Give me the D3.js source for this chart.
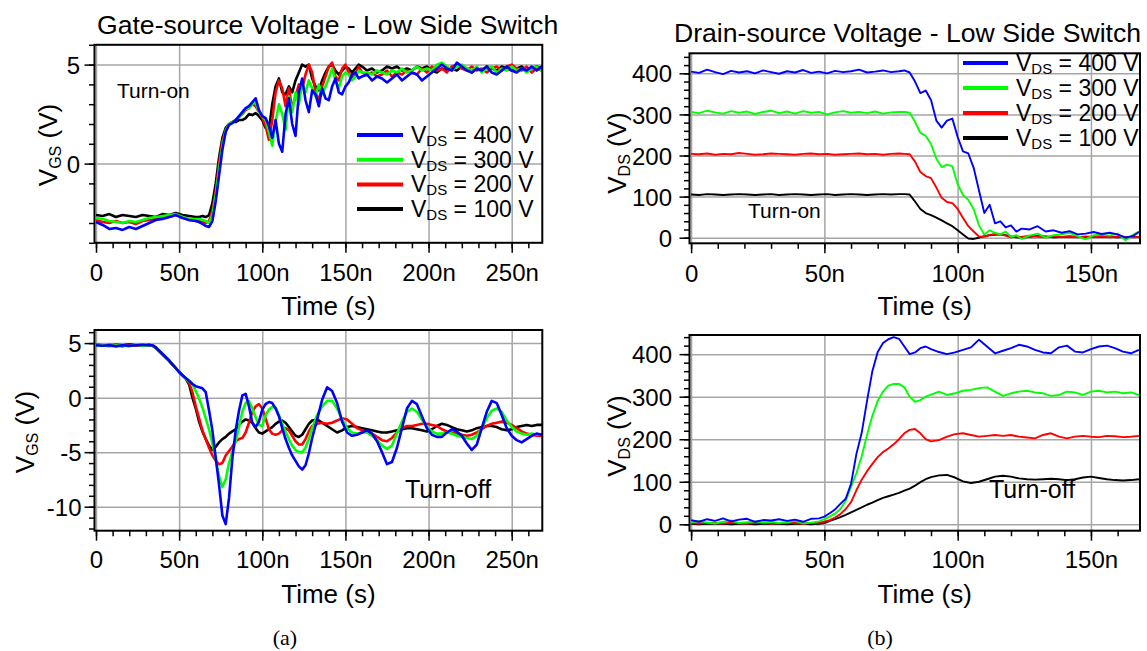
<!DOCTYPE html>
<html>
<head>
<meta charset="utf-8">
<script src="https://cdn.jsdelivr.net/npm/d3@7"></script>
<style>
    body { margin: 0; background: #fff; }
    svg { display: block; font-family: "Liberation Sans", Arial, sans-serif; }
</style>
</head>
<body>
<svg id="chart" width="1147" height="651"></svg>
<script>
// Legend / series
const legendVoltages = ['400', '300', '200', '100'];
const seriesColors = ['#0000ff', '#00ff00', '#ff0000', '#000000'];

// Tick values
const xTicksLeft = [0, 50, 100, 150, 200, 250];
const xTicksRight = [0, 50, 100, 150];
const yTicksGsOn = [0, 5];
const yTicksGsOff = [-10, -5, 0, 5];
const yTicksDs = [0, 100, 200, 300, 400];

// (a) top: gate-source, turn-on (time in ns, volts)
const tGsOn = [0,4,8,12,16,20,24,28,32,36,40,44,48,52,56,60,
    62,64,66,68,70,72,74,76,78,80,82,84,86,88,90,92,94,96,98,100,
    102,104,106,108,110,112,114,116,118,120,122,124,126,128,130,132,134,136,138,140,
    142,144,146,148,150,152,154,156,158,160,
    163,166,169,172,175,178,181,184,187,190,193,196,199,202,205,208,211,214,217,220,
    223,226,229,232,235,238,241,244,247,250,253,256,259,262,265,268,270];
const vgsOn400 = [-2.95,-3.1,-3.3,-3.25,-3.35,-3.2,-3.3,-3.15,-3.0,-2.85,-2.8,-2.7,-2.6,-2.75,-2.85,-2.9,
    -2.95,-3.05,-3.15,-3.2,-2.9,-1.9,-0.6,0.7,1.6,1.95,2.05,2.2,2.4,2.6,2.8,2.9,3.1,3.3,2.7,2.4,
    2.3,1.9,1.3,2.2,1.0,0.6,2.5,3.3,2.0,1.4,3.6,4.3,3.2,2.6,3.7,3.5,2.9,3.8,3.3,3.2,
    3.9,4.3,3.6,3.5,3.9,4.1,4.5,4.6,4.3,4.4,
    4.5,4.2,4.4,4.3,4.1,4.3,4.5,4.2,4.4,4.6,4.5,4.2,4.4,4.6,4.8,5.0,4.8,4.7,5.1,4.9,
    4.7,4.6,4.8,4.7,4.9,4.6,4.5,4.7,4.9,4.7,4.6,4.8,4.7,4.9,4.7,4.9,5.0];
const vgsOn300 = [-2.75,-2.8,-2.9,-2.95,-3.0,-2.9,-2.95,-2.85,-2.75,-2.7,-2.65,-2.6,-2.55,-2.7,-2.8,-2.8,
    -2.8,-2.85,-2.9,-3.0,-2.6,-1.6,-0.3,0.9,1.65,2.0,2.1,2.2,2.35,2.55,2.75,2.8,3.0,3.1,2.6,2.4,
    2.2,1.6,0.9,2.1,3.0,2.5,1.7,3.4,2.6,3.6,3.0,4.0,3.6,4.2,3.8,3.4,4.0,3.5,3.9,4.3,
    4.8,4.2,3.8,4.4,4.6,4.5,4.2,4.4,4.7,4.6,
    4.6,4.5,4.7,4.6,4.5,4.7,4.6,4.8,4.6,4.7,4.9,4.7,4.8,4.7,5.0,5.1,4.9,4.7,4.9,5.0,
    4.8,4.7,4.9,4.6,4.8,4.9,4.6,4.8,4.7,4.9,4.7,4.8,4.6,4.8,4.9,4.7,4.8];
const vgsOn200 = [-2.85,-2.95,-3.0,-2.9,-3.0,-2.95,-3.05,-2.9,-2.85,-2.8,-2.75,-2.7,-2.6,-2.7,-2.85,-2.9,
    -2.85,-2.95,-3.0,-2.9,-2.4,-1.4,0.0,1.1,1.7,2.0,2.1,2.2,2.35,2.5,2.7,2.8,3.0,2.9,2.6,2.3,
    1.9,1.2,2.2,3.6,4.2,3.8,2.9,3.8,2.8,3.4,4.0,3.8,4.5,5.0,4.6,3.6,3.2,3.9,4.4,4.9,
    5.1,4.4,4.2,4.8,5.0,4.6,4.3,4.5,4.9,4.6,
    4.5,4.6,4.4,4.5,4.7,4.4,4.6,4.5,4.7,4.6,4.5,4.8,4.6,4.9,4.7,4.8,4.6,4.9,5.0,4.8,
    4.7,4.9,4.7,4.8,4.6,4.8,4.9,4.7,4.9,5.0,4.8,4.7,4.9,4.6,4.8,4.7,4.6];
const vgsOn100 = [-2.6,-2.65,-2.55,-2.7,-2.6,-2.65,-2.7,-2.6,-2.65,-2.7,-2.55,-2.6,-2.5,-2.6,-2.65,-2.7,
    -2.7,-2.65,-2.7,-2.6,-2.0,-1.0,0.3,1.3,1.8,2.0,2.1,2.1,2.2,2.2,2.3,2.5,2.45,2.55,2.4,2.2,
    1.8,1.7,3.0,3.9,4.3,3.6,3.5,3.9,3.6,4.2,4.6,5.0,4.9,5.0,4.3,3.9,3.7,4.2,4.6,4.9,
    5.0,4.7,4.5,4.7,4.9,4.8,4.6,4.8,5.0,4.9,
    4.7,4.8,4.6,4.7,4.9,4.8,4.9,4.7,4.8,4.7,4.9,4.8,4.9,4.7,4.6,4.8,4.7,4.8,4.7,4.9,
    4.8,4.6,4.8,4.7,4.9,4.8,4.7,4.9,4.8,4.7,4.8,4.9,4.7,4.8,4.9,4.8,4.8];

// (a) bottom: gate-source, turn-off
const tGsOff = [0,4,8,12,16,20,24,28,32,
    34,36,38,40,42,44,46,48,50,52,54,56,58,60,62,64,66,68,70,72,
    74,76,78,80,82,84,86,88,90,92,94,96,98,100,102,104,106,108,110,112,
    114,116,118,120,122,124,126,128,130,
    133,136,139,142,145,148,151,154,157,160,163,166,169,172,175,178,181,184,187,190,
    193,196,199,202,205,208,211,214,217,220,223,226,229,232,235,238,241,244,247,250,
    253,256,259,262,265,268,270];
const vgsOff400 = [4.8,4.75,4.8,4.7,4.8,4.75,4.8,4.85,4.8,
    4.8,4.6,4.3,4.0,3.7,3.4,3.05,2.7,2.35,2.05,1.8,1.55,1.25,1.05,0.95,0.85,0.5,-1.2,-3.0,-5.5,
    -8.0,-10.8,-11.6,-9.2,-5.6,-3.0,-1.2,0.2,0.35,-0.8,-2.3,-2.7,-2.2,-1.1,-0.6,-0.4,-0.5,-1.0,-1.7,-2.8,
    -3.8,-4.6,-5.3,-5.8,-6.3,-6.6,-6.2,-5.1,-3.7,
    -2.0,-0.2,0.95,0.6,-0.5,-2.2,-3.2,-3.5,-3.4,-3.2,-3.0,-3.3,-4.0,-5.0,-6.1,-5.9,-4.6,-2.8,-1.0,-0.3,
    -0.6,-1.7,-2.8,-3.4,-3.6,-3.6,-3.2,-2.9,-3.1,-3.5,-4.2,-4.8,-4.3,-2.8,-1.3,-0.3,-0.5,-1.6,-2.8,-3.5,
    -3.9,-4.1,-3.8,-3.5,-3.3,-3.4,-3.5];
const vgsOff300 = [4.75,4.8,4.7,4.8,4.75,4.7,4.85,4.75,4.8,
    4.8,4.6,4.3,4.0,3.7,3.4,3.05,2.7,2.35,2.05,1.75,1.5,1.25,0.6,-0.1,-0.9,-1.9,-2.9,-4.2,-5.6,
    -7.2,-8.2,-7.5,-6.0,-5.0,-4.0,-2.7,-1.3,-0.5,-0.3,-1.0,-1.8,-2.5,-2.6,-1.6,-1.1,-0.85,-0.9,-1.6,-2.4,
    -3.1,-3.8,-4.4,-4.8,-5.0,-5.0,-4.6,-3.8,-2.8,
    -1.6,-0.8,-0.3,-0.3,-1.0,-2.0,-2.8,-3.2,-3.3,-3.2,-3.2,-3.5,-3.9,-4.4,-4.7,-4.4,-3.3,-2.2,-1.3,-1.0,
    -1.3,-2.0,-2.7,-3.1,-3.3,-3.3,-3.2,-3.3,-3.5,-3.6,-3.7,-3.8,-3.5,-2.8,-1.9,-1.2,-1.0,-1.3,-2.1,-2.7,
    -3.1,-3.3,-3.4,-3.3,-3.4,-3.4,-3.5];
const vgsOff200 = [4.8,4.75,4.85,4.8,4.7,4.85,4.75,4.8,4.8,
    4.8,4.6,4.3,4.0,3.7,3.4,3.05,2.7,2.35,2.05,1.75,1.35,0.5,-0.8,-1.9,-3.0,-3.8,-4.6,-5.3,-5.8,
    -6.1,-6.0,-5.3,-4.9,-4.5,-4.0,-3.8,-3.7,-3.2,-2.3,-1.3,-0.8,-0.6,-1.0,-1.9,-2.9,-3.3,-3.4,-3.3,-3.0,
    -2.8,-3.0,-3.5,-4.0,-4.3,-4.3,-3.8,-3.1,-2.6,
    -2.4,-2.3,-2.4,-2.3,-2.1,-1.9,-2.0,-2.4,-2.8,-3.0,-3.1,-3.3,-3.6,-3.9,-4.0,-3.7,-3.2,-2.8,-2.6,-2.6,
    -2.5,-2.4,-2.4,-2.5,-2.6,-2.9,-3.1,-3.2,-3.3,-3.4,-3.5,-3.4,-3.2,-2.9,-2.6,-2.4,-2.3,-2.2,-2.3,-2.5,
    -2.8,-3.1,-3.3,-3.4,-3.5,-3.5,-3.5];
const vgsOff100 = [4.85,4.8,4.75,4.85,4.8,4.9,4.8,4.75,4.85,
    4.75,4.55,4.25,3.95,3.65,3.35,3.0,2.7,2.35,2.05,1.75,1.2,0.0,-1.0,-2.2,-3.1,-3.8,-4.4,-4.8,-4.5,
    -4.1,-3.8,-3.6,-3.3,-3.1,-2.9,-2.5,-2.2,-2.0,-2.1,-2.3,-2.8,-3.2,-3.3,-3.1,-2.9,-2.7,-2.4,-2.2,-2.1,
    -2.3,-2.7,-3.1,-3.5,-3.6,-3.4,-2.9,-2.4,-2.1,
    -2.0,-2.3,-2.6,-2.9,-3.2,-3.0,-2.7,-2.6,-2.7,-2.8,-2.9,-3.0,-3.1,-3.2,-3.2,-3.1,-3.0,-2.9,-2.8,-2.8,
    -2.9,-3.0,-3.1,-2.9,-2.6,-2.4,-2.5,-2.7,-2.9,-3.0,-3.1,-3.0,-2.8,-2.7,-2.6,-2.6,-2.7,-2.9,-3.0,-2.9,
    -2.7,-2.6,-2.5,-2.6,-2.5,-2.5,-2.6];

// (b) top: drain-source, turn-on
const tDsOn = [0,3,6,9,12,15,18,21,24,27,30,33,36,39,42,45,48,51,54,57,60,63,66,69,72,75,78,
    80,82,84,86,88,90,92,94,96,98,100,102,104,106,108,110,112,114,116,118,120,122,124,
    127,130,133,136,139,142,145,148,151,154,157,160,163,166,168];
const vdsOn400 = [404,401,409,403,398,406,402,405,400,407,403,399,405,402,408,401,404,400,406,403,405,409,402,404,407,403,405,
    407,402,380,352,358,335,285,268,285,290,245,210,205,170,115,60,80,35,40,25,30,15,22,
    20,28,15,18,12,16,8,10,14,9,12,8,0,5,14];
const vdsOn300 = [306,303,309,305,302,308,304,307,301,306,309,303,307,302,308,304,306,300,305,308,304,306,303,307,302,305,306,
    306,304,282,255,248,228,192,172,178,174,130,104,92,70,30,8,18,12,8,15,2,6,-3,
    5,10,0,6,8,12,4,-4,6,8,5,10,-6,8,15];
const vdsOn200 = [204,203,205,202,204,203,206,204,202,203,205,204,203,202,204,205,203,204,202,203,204,205,203,204,202,204,205,
    204,203,185,160,150,145,122,97,87,84,70,48,28,15,3,2,7,9,8,5,1,3,2,
    5,3,1,4,2,3,1,3,2,4,1,3,2,1,2];
const vdsOn100 = [105,104,106,105,104,105,106,105,104,105,106,104,105,106,105,104,105,106,104,105,106,105,104,105,106,105,106,
    106,105,88,70,60,55,49,42,35,28,18,8,-2,-3,0,4,6,7,8,6,3,1,0,
    2,4,3,1,2,3,2,1,2,3,2,1,2,2,2];

// (b) bottom: drain-source, turn-off
const tDsOff = [0,3,6,9,12,15,18,21,24,27,30,33,36,39,42,45,
    48,50,52,54,56,58,60,62,64,66,68,70,72,74,76,78,80,82,84,86,88,90,
    93,96,99,102,105,108,111,114,117,120,123,126,129,132,135,138,141,144,147,150,153,156,159,162,165,
    168];
const vdsOff400 = [10,6,12,8,14,7,11,13,6,10,9,12,8,11,6,13,
    14,18,26,35,48,60,95,165,215,290,360,405,426,435,440,436,418,400,404,414,418,412,
    405,400,404,410,416,434,418,402,408,414,422,418,410,404,402,416,420,406,404,412,418,420,414,406,402,
    410];
const vdsOff300 = [5,8,4,2,6,9,3,5,7,4,6,3,5,8,2,4,
    7,12,18,25,36,55,88,120,160,210,255,290,312,326,330,330,322,300,288,292,300,305,
    312,304,308,314,316,320,322,312,302,308,312,314,310,308,302,304,312,310,304,312,314,310,312,308,310,
    304];
const vdsOff200 = [3,2,4,3,2,4,3,2,3,4,2,3,4,3,2,3,
    4,6,10,16,24,36,52,80,105,125,142,158,170,178,188,200,214,222,224,214,200,195,
    198,206,212,214,210,206,208,210,208,210,206,204,202,210,214,206,202,206,208,206,205,208,207,205,206,
    208];
const vdsOff100 = [1,0,1,2,1,0,1,1,0,1,2,1,0,1,1,0,
    1,3,8,12,17,22,28,34,40,46,51,57,62,66,70,74,79,84,91,99,106,111,
    115,116,110,101,97,100,106,112,114,112,108,106,105,106,107,106,104,106,110,112,109,106,104,103,104,
    106];

const svg = d3.select('#chart');
const gridColor = '#a6a6a6';
const timeFormat = d => d === 0 ? '0' : d + 'n';

// Add V with subscript to a text element
function subText(sel, sub, rest, size, subSize, shift) {
    sel.append('tspan').text('V');
    sel.append('tspan').attr('font-size', subSize).attr('dy', shift).text(sub);
    sel.append('tspan').attr('font-size', size).attr('dy', -shift).text(rest);
}

function drawPanel(p) {
    const x = d3.scaleLinear().domain(p.xDomain).range([p.left, p.right]);
    const y = d3.scaleLinear().domain(p.yDomain).range([p.bottom, p.top]);
    const w = p.right - p.left;
    const h = p.bottom - p.top;
    const g = svg.append('g');

    g.append('clipPath').attr('id', 'clip-' + p.id)
        .append('rect')
        .attr('x', p.left).attr('y', p.top)
        .attr('width', w).attr('height', h);

    // Gridlines
    g.append('g')
        .attr('transform', `translate(0,${p.bottom})`)
        .call(d3.axisBottom(x).tickValues(p.xTicks).tickSize(-h).tickFormat(''))
        .call(s => s.select('.domain').remove())
        .selectAll('line').attr('stroke', gridColor).attr('stroke-width', 1.5);
    g.append('g')
        .attr('transform', `translate(${p.left},0)`)
        .call(d3.axisLeft(y).tickValues(p.yTicks).tickSize(-w).tickFormat(''))
        .call(s => s.select('.domain').remove())
        .selectAll('line').attr('stroke', gridColor).attr('stroke-width', 1.5);

    // Traces (100 V drawn first, 400 V on top)
    const line = d3.line().x(d => x(d[0])).y(d => y(d[1]));
    const traces = g.append('g').attr('clip-path', `url(#clip-${p.id})`);
    p.series.map((vals, i) => ({ vals, color: seriesColors[i] }))
        .reverse()
        .forEach(s => {
            traces.append('path')
                .datum(d3.zip(p.times, s.vals))
                .attr('d', line)
                .attr('fill', 'none')
                .attr('stroke', s.color)
                .attr('stroke-width', p.lineWidth)
                .attr('stroke-linejoin', 'round');
        });

    // Frame
    g.append('rect')
        .attr('x', p.left).attr('y', p.top)
        .attr('width', w).attr('height', h)
        .attr('fill', 'none').attr('stroke', '#000').attr('stroke-width', 2);

    // Minor ticks
    g.append('g')
        .attr('transform', `translate(0,${p.bottom})`)
        .call(d3.axisBottom(x).tickValues(p.xMinor).tickSize(5.5).tickFormat(''))
        .call(s => s.select('.domain').remove())
        .selectAll('line').attr('stroke-width', 1.5);
    g.append('g')
        .attr('transform', `translate(${p.left},0)`)
        .call(d3.axisLeft(y).tickValues(p.yMinor).tickSize(5.5).tickFormat(''))
        .call(s => s.select('.domain').remove())
        .selectAll('line').attr('stroke-width', 1.5);

    // Major ticks with labels
    const xAxis = g.append('g')
        .attr('transform', `translate(0,${p.bottom})`)
        .call(d3.axisBottom(x).tickValues(p.xTicks).tickSize(10).tickFormat(timeFormat))
        .attr('font-family', null).attr('font-size', null);
    xAxis.select('.domain').remove();
    xAxis.selectAll('line').attr('stroke-width', 1.5);
    xAxis.selectAll('text').attr('y', p.xLabelDy).attr('dy', 0)
        .style('font-size', '24px').attr('fill', '#000');

    const yAxis = g.append('g')
        .attr('transform', `translate(${p.left},0)`)
        .call(d3.axisLeft(y).tickValues(p.yTicks).tickSize(10).tickFormat(d => String(d)))
        .attr('font-family', null).attr('font-size', null);
    yAxis.select('.domain').remove();
    yAxis.selectAll('line').attr('stroke-width', 1.5);
    yAxis.selectAll('text').attr('x', -p.yLabelGap).attr('dy', '0.36em')
        .style('font-size', '24px').attr('fill', '#000');

    // Axis titles
    g.append('text')
        .attr('x', (p.left + p.right) / 2 + 10)
        .attr('y', p.bottom + p.xTitleDy)
        .attr('text-anchor', 'middle')
        .style('font-size', '26px')
        .text('Time (s)');

    const yt = g.append('text')
        .attr('transform', `translate(${p.yTitleX},${p.yTitleY}) rotate(-90)`)
        .attr('text-anchor', 'middle')
        .style('font-size', '26px');
    subText(yt, p.ySub, ' (V)', 26, 16, 4);

    // Panel note
    g.append('text')
        .attr('x', p.note[0]).attr('y', p.note[1])
        .style('font-size', p.note[3] + 'px')
        .text(p.note[2]);

    if (p.title) {
        g.append('text')
            .attr('x', p.title[0]).attr('y', p.title[1])
            .style('font-size', '26.6px')
            .text(p.title[2]);
    }

    if (p.legend) {
        const lg = g.append('g');
        legendVoltages.forEach((v, i) => {
            const ry = p.legend.y0 + i * p.legend.dy;
            lg.append('line')
                .attr('x1', p.legend.x1).attr('x2', p.legend.x2)
                .attr('y1', ry).attr('y2', ry)
                .attr('stroke', seriesColors[i]).attr('stroke-width', 4);
            const t = lg.append('text')
                .attr('x', p.legend.x2 + 8).attr('y', ry + 8)
                .style('font-size', '23px');
            subText(t, 'DS', ` = ${v} V`, 23, 15, 3);
        });
    }
}

const minorLeft = d3.range(0, 261, 10);
const minorRight = d3.range(0, 161, 10);

drawPanel({
    id: 'gs-on', left: 94.5, right: 542.3, top: 44.8, bottom: 242.8,
    xDomain: [-0.9, 268.4], yDomain: [-4, 6],
    xTicks: xTicksLeft, xMinor: minorLeft, yTicks: yTicksGsOn, yMinor: d3.range(-4, 7, 1),
    times: tGsOn, series: [vgsOn400, vgsOn300, vgsOn200, vgsOn100], lineWidth: 2.6,
    xLabelDy: 38.5, xTitleDy: 72, yLabelGap: 14.5, yTitleX: 57, yTitleY: 145, ySub: 'GS',
    note: [117, 98, 'Turn-on', 21],
    title: [97, 33.5, 'Gate-source Voltage - Low Side Switch'],
    legend: { x1: 357, x2: 403, y0: 135, dy: 24.7 }
});

drawPanel({
    id: 'gs-off', left: 94.5, right: 542.3, top: 330, bottom: 530.7,
    xDomain: [-0.9, 268.4], yDomain: [-12.2, 6.2],
    xTicks: xTicksLeft, xMinor: minorLeft, yTicks: yTicksGsOff, yMinor: d3.range(-12, 7, 1),
    times: tGsOff, series: [vgsOff400, vgsOff300, vgsOff200, vgsOff100], lineWidth: 2.6,
    xLabelDy: 37.5, xTitleDy: 72, yLabelGap: 13, yTitleX: 34, yTitleY: 432, ySub: 'GS',
    note: [405, 498, 'Turn-off', 25]
});

drawPanel({
    id: 'ds-on', left: 689.5, right: 1140, top: 53.3, bottom: 243.3,
    xDomain: [-0.6, 168.4], yDomain: [-13.6, 448.7],
    xTicks: xTicksRight, xMinor: minorRight, yTicks: yTicksDs, yMinor: d3.range(0, 441, 20),
    times: tDsOn, series: [vdsOn400, vdsOn300, vdsOn200, vdsOn100], lineWidth: 1.9,
    xLabelDy: 38.5, xTitleDy: 72, yLabelGap: 17.5, yTitleX: 626, yTitleY: 153, ySub: 'DS',
    note: [748, 218, 'Turn-on', 21],
    title: [674, 42, 'Drain-source Voltage - Low Side Switch'],
    legend: { x1: 963, x2: 1008, y0: 63, dy: 25 }
});

drawPanel({
    id: 'ds-off', left: 689.5, right: 1140, top: 335, bottom: 530.7,
    xDomain: [-0.6, 168.4], yDomain: [-15, 445],
    xTicks: xTicksRight, xMinor: minorRight, yTicks: yTicksDs, yMinor: d3.range(0, 441, 20),
    times: tDsOff, series: [vdsOff400, vdsOff300, vdsOff200, vdsOff100], lineWidth: 1.9,
    xLabelDy: 37.5, xTitleDy: 72, yLabelGap: 17.5, yTitleX: 626, yTitleY: 436, ySub: 'DS',
    note: [989, 498, 'Turn-off', 25]
});

// Sub-figure captions
svg.selectAll('.caption')
    .data([[285, '(a)'], [880, '(b)']])
    .join('text')
    .attr('class', 'caption')
    .attr('x', d => d[0]).attr('y', 645)
    .attr('text-anchor', 'middle')
    .style('font-family', '"Liberation Serif", "Times New Roman", serif')
    .style('font-size', '22px')
    .text(d => d[1]);
</script>
</body>
</html>
